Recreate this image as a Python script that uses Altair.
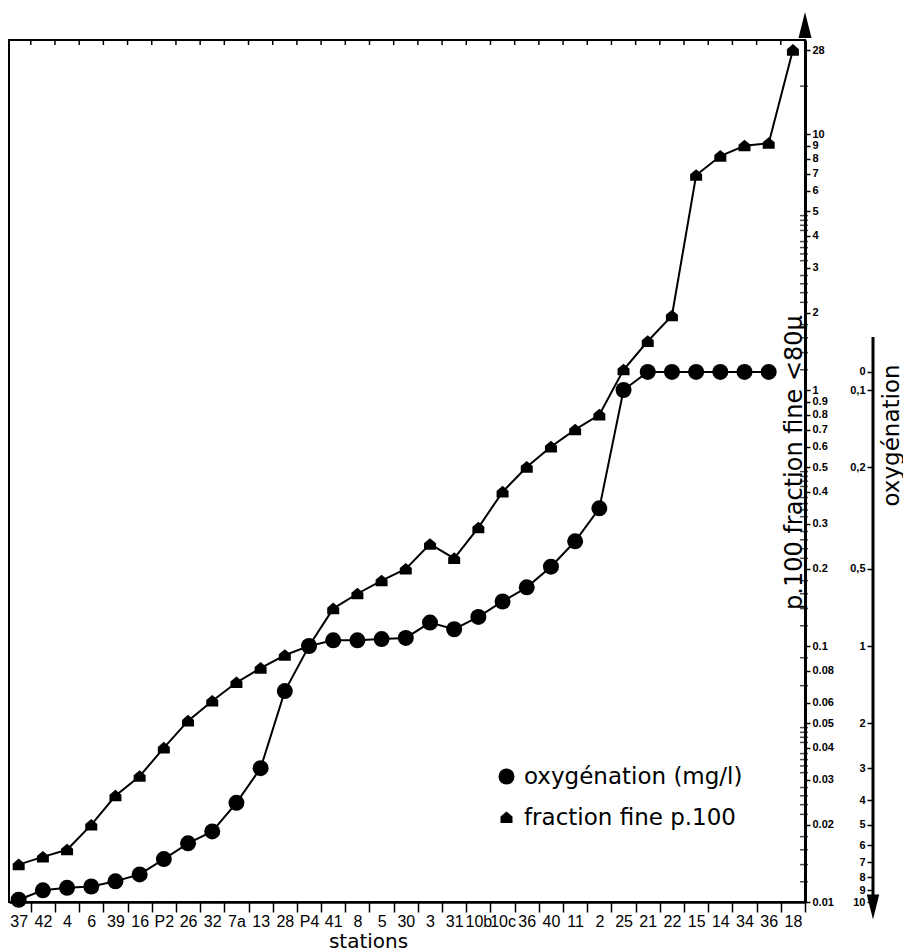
import json
import math
import pandas as pd
import altair as alt

# ---------------- data ----------------
stations = ["37", "42", "4", "6", "39", "16", "P2", "26", "32", "7a", "13", "28", "P4",
            "41", "8", "5", "30", "3", "31", "10b", "10c", "36", "40", "11", "2", "25",
            "21", "22", "15", "14", "34", "36", "18"]

fraction_fine = [0.014, 0.015, 0.016, 0.020, 0.026, 0.031, 0.040, 0.051, 0.061, 0.072,
                 0.082, 0.092, 0.10, 0.14, 0.16, 0.18, 0.20, 0.25, 0.22, 0.29, 0.40,
                 0.50, 0.60, 0.70, 0.80, 1.2, 1.55, 1.95, 6.9, 8.2, 9.0, 9.2, 28]

oxygenation = [9.8, 9.0, 8.8, 8.7, 8.3, 7.8, 6.8, 5.9, 5.3, 4.1, 3.0, 1.5, 1.0, 0.95,
               0.95, 0.94, 0.93, 0.81, 0.86, 0.77, 0.67, 0.59, 0.49, 0.39, 0.29, 0.1,
               0, 0, 0, 0, 0, 0, None]

frac_tick_labels = [0.01, 0.02, 0.03, 0.04, 0.05, 0.06, 0.08, 0.1, 0.2, 0.3, 0.4, 0.5,
                    0.6, 0.7, 0.8, 0.9, 1, 2, 3, 4, 5, 6, 7, 8, 9, 10, 28]
frac_minor_mult = [1.2, 1.4, 1.6, 1.8, 2.2, 2.4, 2.6, 2.8, 3.2, 3.4, 3.6, 3.8,
                   4.2, 4.4, 4.6, 4.8]
frac_minor_extra = [0.07, 0.09, 18]
oxy_tick_labels = [0, 0.1, 0.2, 0.5, 1, 2, 3, 4, 5, 6, 7, 8, 9, 10]

OXY_NAME = "oxygénation (mg/l)"
FRAC_NAME = "fraction fine p.100"
ZERO_POS = 0.085  # the broken oxygen axis draws "0" just above 0,1

# ---------------- geometry ----------------
W, H = 796, 862
DEC = (H - 94) / 3.0          # pixels per decade on the log axes
BAND = W / 32.9               # pixels per station

df = pd.DataFrame({
    "idx": list(range(len(stations))),
    "station": stations,
    "fraction": fraction_fine,
    "oxygen": oxygenation,
})
minor_vals = [round(b * m, 5) for b in (0.01, 0.1, 1) for m in frac_minor_mult] + frac_minor_extra
minor_df = pd.DataFrame({"v": minor_vals})
one = pd.DataFrame({"a": [0]})

x_scale = alt.Scale(domain=[-0.4, 32.5], nice=False, zero=False)
x_axis = alt.Axis(
    values=list(range(len(stations))),
    labelExpr=json.dumps(stations) + "[datum.value]",
    tickOffset=BAND / 2, labelOffset=-BAND / 2,
    tickSize=10, tickWidth=1.5, tickColor="black",
    domainColor="black", domainWidth=2.5,
    labelFont="Liberation Sans", labelFontSize=16, labelColor="black",
    labelPadding=1, labelOverlap=False, labelFlush=False, grid=False,
    title="stations", titleFont="DejaVu Sans", titleFontSize=20,
    titleFontWeight="normal", titleColor="black",
    titleX=359, titleY=45, titleBaseline="alphabetic", titleAlign="center",
)


def xenc(field):
    return alt.X(f"{field}:Q", scale=x_scale, axis=x_axis)


frac_scale = alt.Scale(type="log", domain=[0.01, 10, 31.7], range=[H, 94, 0], nice=False)
OXY_LO = 0.08
oxy_scale = alt.Scale(type="log", domain=[OXY_LO, 10],
                      range=[H - DEC * math.log10(10 / OXY_LO), H], nice=False)

frac_axis = alt.Axis(
    orient="right", values=frac_tick_labels, format="~g",
    tickSize=5, tickWidth=1.5, tickColor="black",
    domainColor="black", domainWidth=3,
    labelFont="Liberation Sans", labelFontSize=11, labelFontWeight="bold",
    labelColor="black", labelPadding=2, labelOverlap=False, grid=False,
    title="p.100 fraction fine <80µ", titleFont="DejaVu Sans", titleFontSize=24,
    titleFontWeight="normal", titleColor="black", titleAngle=270,
    titleX=-4, titleY=422, titleAlign="center", titleBaseline="alphabetic",
)

oxy_axis = alt.Axis(
    orient="left", offset=-(873 - 9),
    values=[ZERO_POS if v == 0 else v for v in oxy_tick_labels],
    format="~g",
    labelExpr="datum.value < 0.09 ? '0' : replace(datum.label, '.', ',')",
    domain=False, tickSize=6, tickWidth=1.5, tickColor="black",
    labelFont="Liberation Sans", labelFontSize=11, labelFontWeight="bold",
    labelColor="black", labelPadding=2, labelOverlap=False, grid=False,
    title="oxygénation", titleFont="DejaVu Sans", titleFontSize=23,
    titleFontWeight="normal", titleColor="black", titleAngle=270,
    titleX=25, titleY=395, titleAlign="center", titleBaseline="alphabetic",
)

house = "M0,-0.75L0.75,-0.12L0.75,0.7L-0.75,0.7L-0.75,-0.12Z"
shape_enc = alt.Shape(
    "series:N",
    scale=alt.Scale(domain=[OXY_NAME, FRAC_NAME], range=["circle", house]),
    legend=alt.Legend(
        orient="none", legendX=486, legendY=725, title=None,
        labelFont="DejaVu Sans", labelFontSize=23, labelColor="black",
        labelLimit=500, labelOffset=6, rowPadding=17, padding=0,
        symbolSize=256, symbolFillColor="black", symbolStrokeWidth=0,
        symbolOpacity=1,
        labelExpr="datum.label == '" + FRAC_NAME + "' ? '\u00a0\u00a0\u00a0' + datum.label : datum.label",
    ),
)

frac_base = alt.Chart(df).transform_calculate(series="'" + FRAC_NAME + "'")
oxy_base = (alt.Chart(df)
            .transform_filter("isValid(datum.oxygen)")
            .transform_calculate(oy=f"datum.oxygen === 0 ? {ZERO_POS} : datum.oxygen",
                                 series="'" + OXY_NAME + "'"))

frac_line = frac_base.mark_line(color="black", strokeWidth=2).encode(
    x=xenc("idx"), y=alt.Y("fraction:Q", scale=frac_scale, axis=frac_axis))
oxy_line = oxy_base.mark_line(color="black", strokeWidth=2).encode(
    x=xenc("idx"), y=alt.Y("oy:Q", scale=oxy_scale, axis=oxy_axis))
frac_pts = frac_base.mark_point(filled=True, color="black", opacity=1, size=256).encode(
    x=xenc("idx"), y=alt.Y("fraction:Q", scale=frac_scale, axis=None), shape=shape_enc)
oxy_pts = oxy_base.mark_point(filled=True, color="black", opacity=1, size=256).encode(
    x=xenc("idx"), y=alt.Y("oy:Q", scale=oxy_scale, axis=None), shape=shape_enc)

minor_ticks = alt.Chart(minor_df).mark_tick(
    orient="horizontal", size=8, thickness=1.5, color="black").encode(
    y=alt.Y("v:Q", scale=frac_scale, axis=None), x=alt.value(W - 1))

top_ticks = (alt.Chart(df).transform_filter("datum.idx < 32")
             .transform_calculate(b="datum.idx + 0.5")
             .mark_rule(color="black", strokeWidth=1.5)
             .encode(x=xenc("b"), y=alt.value(0), y2=alt.value(5)))

frac_arrow = alt.Chart(one).mark_point(
    shape="M0,-1L0.5,1L-0.5,1Z", filled=True, color="black", opacity=1, size=676
).encode(x=alt.value(W), y=alt.value(-15))

oxy_line_rule = alt.Chart(one).mark_rule(color="black", strokeWidth=3).encode(
    x=alt.value(864), y=alt.value(297), y2=alt.value(858))
oxy_arrow = alt.Chart(one).mark_point(
    shape="M-0.5,-1L0.5,-1L0,1Z", filled=True, color="black", opacity=1, size=625
).encode(x=alt.value(864), y=alt.value(867))

chart = (
    alt.layer(frac_line, oxy_line, minor_ticks, top_ticks, frac_pts, oxy_pts,
              frac_arrow, oxy_line_rule, oxy_arrow)
    .resolve_scale(y="independent")
    .properties(width=W, height=H, background="white",
                padding={"left": 9, "top": 40, "right": 98, "bottom": 49},
                autosize=alt.AutoSizeParams(type="none"))
    .configure_view(stroke="black", strokeWidth=2)
)

chart.save("out.html", embed_options={"renderer": "svg", "actions": False})
